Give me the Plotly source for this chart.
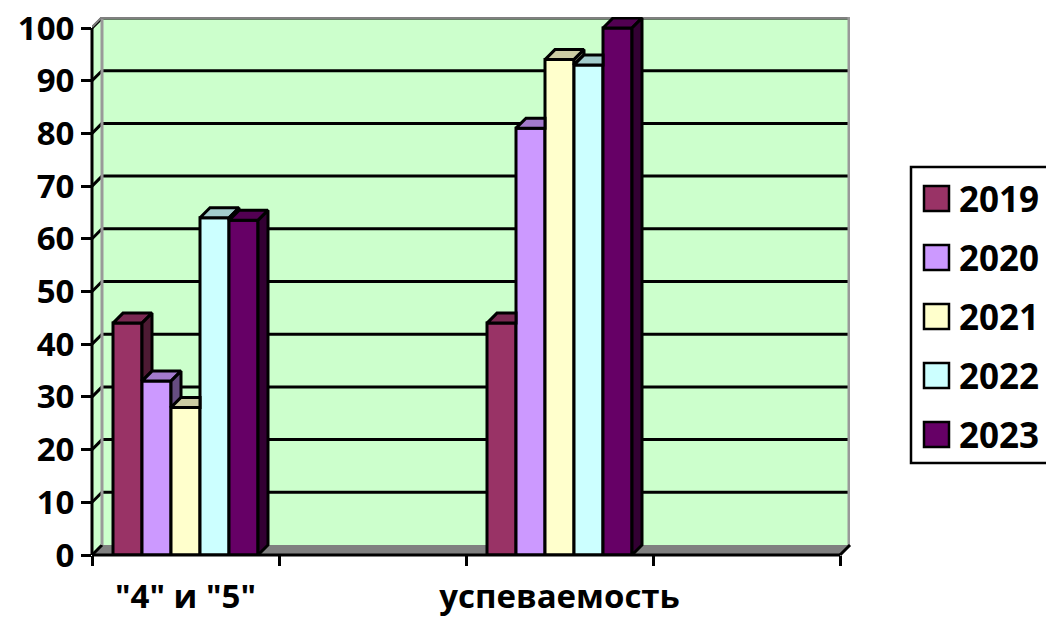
import plotly.graph_objects as go

# ---- data ----
categories = ['"4" и "5"', ' ', 'успеваемость', '  ']
years = ["2019", "2020", "2021", "2022", "2023"]
v2019 = [44, None, 44, None]
v2020 = [33, None, 81, None]
v2021 = [28, None, 94, None]
v2022 = [64, None, 93, None]
v2023 = [63.5, None, 100, None]
series = [v2019, v2020, v2021, v2022, v2023]
front_colors = ["#993366", "#CC99FF", "#FFFFCC", "#CCFFFF", "#660066"]
top_colors = ["#7A2952", "#A37ACC", "#CCCCA3", "#A3CCCC", "#520052"]
side_colors = ["#4D1A33", "#664D80", "#808066", "#668080", "#330033"]
y_ticks = list(range(0, 101, 10))

# ---- layout constants ----
W, H = 1046, 620
L, R, T, B = 92, 850, 17, 555
PX_PER_X = 187.0
PX_PER_Y = 5.27
dx = 10 / PX_PER_X
dy = 10 / PX_PER_Y
x_max = (R - L) / PX_PER_X
y_max = (B - T) / PX_PER_Y
n_cat = len(categories)
bar_w = 29 / PX_PER_X
gap = (1 - bar_w * len(series)) / 2
FONT = "Open Sans"
GRAY = "#808080"
LW = 3

fig = go.Figure()
shapes = []


def poly(pts, fill, line="black", width=0):
    path = "M" + "L".join(f"{x},{y}" for x, y in pts) + "Z"
    shapes.append(dict(type="path", xref="x", yref="y", path=path, fillcolor=fill,
                       line=dict(color=line, width=width), layer="below"))


def seg(x0, y0, x1, y1, color="black", width=LW):
    shapes.append(dict(type="line", xref="x", yref="y", x0=x0, y0=y0, x1=x1, y1=y1,
                       line=dict(color=color, width=width), layer="below"))


def seg_unclipped(x0, y0, x1, y1, color="black", width=LW):
    # paper-referenced so that the stroke is not clipped at the plot edge
    shapes.append(dict(type="line", xref="paper", yref="paper",
                       x0=x0 / x_max, y0=y0 / y_max, x1=x1 / x_max, y1=y1 / y_max,
                       line=dict(color=color, width=width), layer="above"))


# walls and floor
poly([(dx, dy), (x_max, dy), (x_max, y_max), (dx, y_max)], "#CCFFCC")
poly([(0, 0), (dx, dy), (dx, y_max), (0, y_max - dy)], "#CCFFCC")
poly([(0, 0), (n_cat, 0), (n_cat + dx, dy), (dx, dy)], GRAY)
# gridlines
for v in y_ticks[1:]:
    seg(0, v, dx, v + dy)
    seg(dx, v + dy, x_max, v + dy)
seg(0, 0, dx, dy)
# wall border
seg(dx, dy, dx, y_max, "#999999", 3)
seg(dx, y_max, x_max, y_max, GRAY, 4)
seg(x_max, y_max, x_max, dy, "#999999", 5)
seg(0, y_max - dy, dx, y_max, GRAY, 2)
# axis lines
seg_unclipped(0, 0, 0, 100)
seg_unclipped(0, 0, n_cat, 0)
seg_unclipped(n_cat, 0, n_cat + dx, dy)

centers = [i + 0.5 for i in range(n_cat)]

# front faces
for s, (name, vals, col) in enumerate(zip(years, series, front_colors)):
    fig.add_trace(go.Bar(
        x=centers, y=vals, name=name, width=bar_w,
        offset=gap - 0.5 + s * bar_w,
        marker=dict(color=col, line=dict(color="black", width=LW)),
        showlegend=False,
    ))

# top and side faces, derived from the series values
for s, vals in enumerate(series):
    next_vals = series[s + 1] if s + 1 < len(series) else None
    for c, v in enumerate(vals):
        if v is None:
            continue
        nxt = next_vals[c] if next_vals else 0
        right = c + gap + (s + 1) * bar_w
        left = right - bar_w
        if nxt >= v:
            tx = [left, right, right, left + dx, left]
            ty = [v, v, v + dy, v + dy, v]
        else:
            tx = [left, right, right + dx, left + dx, left]
            ty = [v, v, v + dy, v + dy, v]
        fig.add_trace(go.Scatter(x=tx, y=ty, mode="lines", fill="toself",
                                 fillcolor=top_colors[s], line=dict(color="black", width=LW),
                                 hoverinfo="skip", showlegend=False, cliponaxis=False))
        if nxt < v:
            fig.add_trace(go.Scatter(
                x=[right, right + dx, right + dx, right, right],
                y=[v, v + dy, nxt + dy, nxt, v],
                mode="lines", fill="toself", fillcolor=side_colors[s],
                line=dict(color="black", width=LW),
                hoverinfo="skip", showlegend=False, cliponaxis=False))

# legend (drawn to match the large swatches of the reference)
annotations = []


def px(xp):
    return (xp - L) / (R - L)


def py(yp):
    return (B - yp) / (B - T)


shapes.append(dict(type="rect", xref="paper", yref="paper", x0=px(911), x1=px(1060),
                   y0=py(167), y1=py(463), line=dict(color="black", width=2.5),
                   fillcolor="white", layer="below"))
for i, (name, col) in enumerate(zip(years, front_colors)):
    cy = 198.5 + i * 59
    shapes.append(dict(type="rect", xref="paper", yref="paper", x0=px(924), x1=px(949),
                       y0=py(cy - 12.5), y1=py(cy + 12.5),
                       line=dict(color="black", width=2.5), fillcolor=col))
    annotations.append(dict(xref="paper", yref="paper", x=px(957), y=py(cy), text=name,
                            showarrow=False, xanchor="left", yanchor="middle",
                            font=dict(family=FONT, size=35, color="black", weight="bold")))

fig.update_layout(
    width=W, height=H,
    margin=dict(l=L, r=W - R, t=T, b=H - B, pad=0, autoexpand=False),
    paper_bgcolor="white", plot_bgcolor="rgba(0,0,0,0)",
    barmode="overlay", showlegend=False,
    shapes=shapes, annotations=annotations,
    xaxis=dict(range=[0, x_max], tickmode="array", tickvals=centers, ticktext=categories,
               ticks="", showgrid=False, zeroline=False, showline=False, automargin=False,
               tickfont=dict(family=FONT, size=33, color="black", weight="bold"),
               ticklabelstandoff=19,
               minor=dict(tickmode="array", tickvals=list(range(n_cat + 1)), ticks="outside",
                          ticklen=10, tickwidth=3, tickcolor="black", showgrid=False)),
    yaxis=dict(range=[0, y_max], tickmode="array", tickvals=y_ticks,
               ticks="outside", ticklen=10, tickwidth=3, tickcolor="black",
               showgrid=False, zeroline=False, showline=False, automargin=False,
               tickfont=dict(family=FONT, size=33, color="black", weight="bold")),
)

fig.write_html("out.html", post_script="document.body.style.margin='0';",
               config={"displayModeBar": False})
